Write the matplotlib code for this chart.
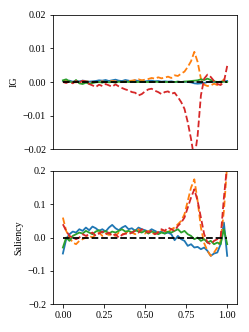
import numpy as np
import matplotlib
matplotlib.use("Agg")
import matplotlib.pyplot as plt

plt.rcParams['font.family'] = ['Liberation Serif', 'DejaVu Serif']
plt.rcParams['font.size'] = 10

# x positions of the samples
x = np.linspace(0, 1, 51)

# IG values
ig_blue = [0.0003, 0.0002, 0.0004, 0.0001, 0.0003, 0.0002, 0.0004, 0.0003, 0.0001, 0.0002,
           0.0003, 0.0005, 0.0004, 0.0006, 0.0003, 0.0005, 0.0007, 0.0004, 0.0003, 0.0006,
           0.0004, 0.0002, 0.0005, 0.0003, 0.0004, 0.0002, 0.0003, 0.0004, 0.0002, 0.0003,
           0.0001, 0.0002, 0.0001, 0.0002, 0.0000, 0.0001, 0.0000, 0.0001, 0.0000, -0.0001,
           -0.0004, -0.0005, -0.0004, -0.0003, 0.0000, 0.0001, 0.0000, 0.0000, 0.0001, 0.0002,
           0.0003]
ig_orange = [0.0002, 0.0003, 0.0001, 0.0000, -0.0001, 0.0001, 0.0000, 0.0002, 0.0001, -0.0001,
             0.0000, 0.0001, 0.0002, 0.0000, 0.0001, 0.0003, 0.0002, 0.0001, 0.0000, 0.0002,
             0.0003, 0.0004, 0.0006, 0.0008, 0.0005, 0.0007, 0.0009, 0.0012, 0.0010, 0.0014,
             0.0011, 0.0013, 0.0016, 0.0012, 0.0020, 0.0018, 0.0025, 0.0031, 0.0045, 0.0062,
             0.0090, 0.0060, 0.0010, -0.0008, -0.0012, -0.0010, -0.0005, -0.0009, -0.0003, 0.0008,
             0.0002]
ig_green = [0.0005, 0.0008, 0.0002, -0.0003, 0.0006, -0.0004, -0.0006, -0.0002, -0.0005, -0.0003,
            -0.0001, 0.0000, -0.0002, 0.0001, -0.0001, 0.0000, -0.0002, 0.0001, 0.0000, 0.0001,
            0.0000, 0.0001, 0.0000, 0.0000, 0.0001, 0.0000, 0.0000, 0.0000, 0.0001, 0.0000,
            0.0000, 0.0000, 0.0000, 0.0000, 0.0000, 0.0001, 0.0000, 0.0001, 0.0002, 0.0003,
            0.0004, 0.0005, 0.0008, 0.0006, 0.0010, 0.0006, 0.0002, 0.0000, 0.0000, 0.0001,
            0.0000]
ig_red = [0.0000, -0.0003, 0.0002, -0.0004, 0.0003, -0.0002, 0.0004, 0.0001, -0.0006, -0.0010,
          -0.0015, -0.0008, -0.0012, -0.0006, -0.0010, -0.0014, -0.0007, -0.0013, -0.0018, -0.0022,
          -0.0025, -0.0030, -0.0032, -0.0040, -0.0036, -0.0028, -0.0022, -0.0020, -0.0026, -0.0030,
          -0.0036, -0.0030, -0.0028, -0.0035, -0.0032, -0.0045, -0.0060, -0.0080, -0.0120, -0.0170,
          -0.0230, -0.0160, -0.0040, 0.0010, 0.0022, 0.0015, 0.0003, -0.0006, -0.0009, 0.0000,
          0.0048]

# Saliency values
sal_blue = [-0.048, -0.005, 0.010, 0.018, 0.015, 0.025, 0.020, 0.030, 0.022, 0.033,
            0.028, 0.020, 0.025, 0.018, 0.030, 0.038, 0.028, 0.022, 0.030, 0.035,
            0.025, 0.028, 0.020, 0.030, 0.025, 0.022, 0.018, 0.025, 0.020, 0.015,
            0.018, 0.012, 0.015, 0.010, -0.008, 0.005, -0.005, -0.010, -0.025, -0.020,
            -0.030, -0.028, -0.035, -0.030, -0.040, -0.055, -0.048, -0.045, -0.020, 0.045,
            -0.055]
sal_orange = [0.060, 0.020, 0.000, -0.015, -0.020, -0.010, -0.005, 0.000, 0.005, 0.000,
              0.010, 0.015, 0.005, 0.012, 0.008, 0.010, 0.005, 0.015, 0.010, 0.012,
              0.020, 0.015, 0.010, 0.025, 0.018, 0.012, 0.020, 0.015, 0.010, 0.018,
              0.022, 0.020, 0.015, 0.025, 0.030, 0.040, 0.050, 0.070, 0.110, 0.150,
              0.175, 0.110, 0.030, -0.017, -0.040, -0.055, -0.045, -0.030, -0.010, 0.080,
              0.220]
sal_green = [-0.030, 0.000, -0.010, 0.005, 0.010, 0.015, 0.012, 0.020, 0.015, 0.010,
             0.018, 0.022, 0.015, 0.020, 0.012, 0.018, 0.015, 0.020, 0.025, 0.018,
             0.020, 0.015, 0.022, 0.018, 0.015, 0.020, 0.012, 0.018, 0.015, 0.010,
             0.015, 0.012, 0.018, 0.015, 0.020, 0.025, 0.015, 0.020, 0.010, 0.005,
             -0.005, 0.000, -0.010, -0.005, -0.015, -0.010, -0.020, -0.015, -0.020, 0.025,
             -0.020]
sal_red = [0.040, 0.020, 0.005, 0.000, -0.005, 0.000, 0.010, 0.005, 0.010, 0.015,
           0.005, 0.012, 0.018, 0.010, 0.015, 0.005, 0.010, 0.000, 0.008, 0.012,
           0.010, 0.015, 0.020, 0.015, 0.025, 0.020, 0.015, 0.020, 0.010, 0.015,
           0.025, 0.020, 0.030, 0.025, 0.020, 0.035, 0.045, 0.060, 0.090, 0.120,
           0.145, 0.110, 0.060, 0.010, -0.015, -0.020, -0.010, -0.005, 0.000, 0.120,
           0.220]

# small figure rendered at 72 dpi, so the default sizes shrink like in the reference
fig = plt.figure(figsize=(249 / 72, 332 / 72), dpi=72)
ax1 = fig.add_axes([0.213, 0.551, 0.739, 0.404])
ax2 = fig.add_axes([0.213, 0.084, 0.739, 0.401])

lw = 1.8
for ax, b, o, g, r in [(ax1, ig_blue, ig_orange, ig_green, ig_red),
                       (ax2, sal_blue, sal_orange, sal_green, sal_red)]:
    ax.plot(x, b, color='tab:blue', lw=lw)
    ax.plot(x, o, color='tab:orange', lw=lw, ls='--')
    ax.plot(x, g, color='tab:green', lw=lw)
    ax.plot(x, r, color='tab:red', lw=lw, ls='--')
    ax.plot([0, 1], [0, 0], color='black', lw=lw, ls='--')
    ax.set_xlim(-0.06, 1.06)

ax1.set_ylim(-0.02, 0.02)
ax1.set_yticks([-0.02, -0.01, 0.0, 0.01, 0.02])
ax1.set_yticklabels(['\u22120.02', '\u22120.01', '0.00', '0.01', '0.02'])
ax1.set_xticks([])
ax1.set_ylabel("IG")

ax2.set_ylim(-0.2, 0.2)
ax2.set_yticks([-0.2, -0.1, 0.0, 0.1, 0.2])
ax2.set_yticklabels(['\u22120.2', '\u22120.1', '0.0', '0.1', '0.2'])
ax2.set_xticks([0, 0.25, 0.5, 0.75, 1.0])
ax2.set_xticklabels(['0.00', '0.25', '0.50', '0.75', '1.00'])
ax2.set_ylabel("Saliency")

plt.savefig("out.png", dpi=72)
